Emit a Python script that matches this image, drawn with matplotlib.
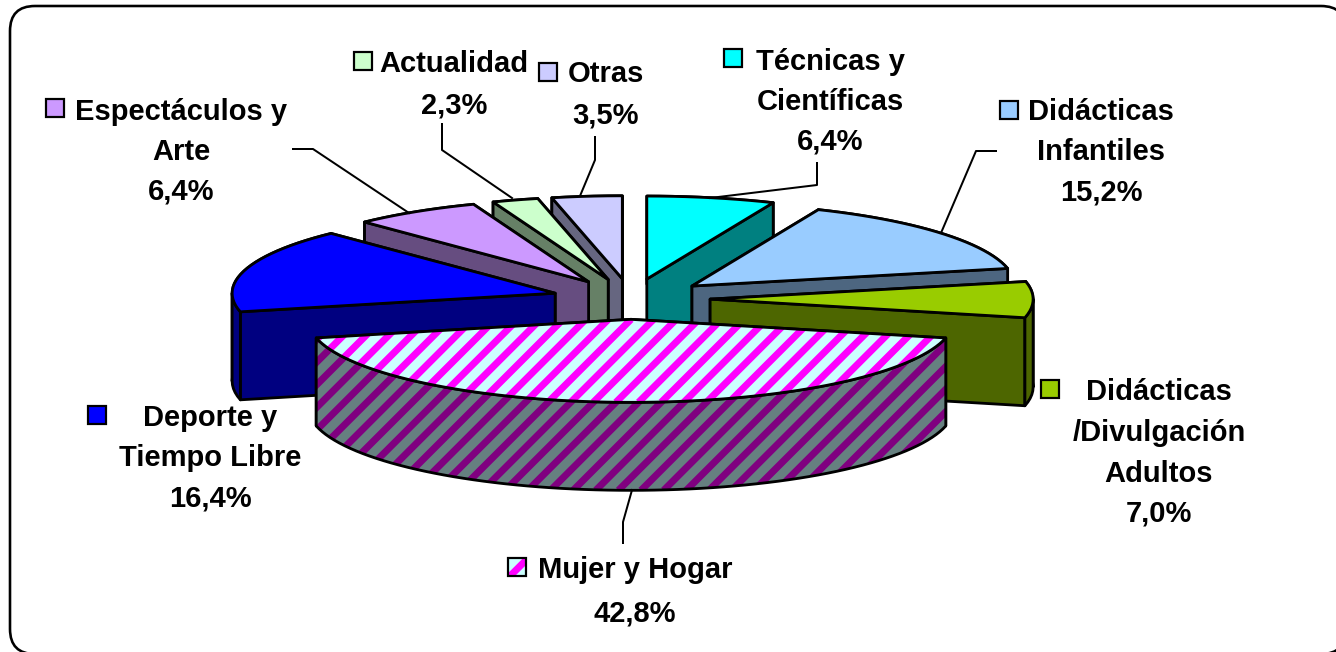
"""
    Exploded 3D pie: distribution of titles by subject
    Slices are projected on an ellipse and extruded downwards by hand
"""

import numpy as np
import matplotlib
matplotlib.use('Agg')
import matplotlib.pyplot as plt
from matplotlib.patches import FancyBboxPatch, Polygon, Rectangle

plt.rcParams['font.family'] = ['Liberation Sans', 'DejaVu Sans']

# clockwise from twelve o'clock
names = ['Técnicas y\nCientíficas', 'Didácticas\nInfantiles', 'Didácticas\n/Divulgación\nAdultos',
         'Mujer y Hogar', 'Deporte y\nTiempo Libre', 'Espectáculos y\nArte', 'Actualidad', 'Otras']
values = [6.4, 15.2, 7.0, 42.8, 16.4, 6.4, 2.3, 3.5]
top_colors = ['#00FFFF', '#99CCFF', '#99CC00', '#CCFFFF', '#0000FF', '#CC99FF', '#CCFFCC', '#CCCCFF']
side_colors = ['#008080', '#4D6680', '#4D6600', '#668080', '#000080', '#664D80', '#668066', '#666680']
draw_order = [0, 7, 6, 5, 1, 4, 2, 3]

# label layout: centre x, first line y, line step, key x, key y
label_pos = [(830, 60, 40, 733, 58), (1101, 111, 40, 1009, 110), (1159, 391, 40.5, 1050, 389),
             (635, 569, 43, 517, 567), (210, 417, 40, 97, 415), (181, 110, 40, 55, 108),
             (454, 62, 42, 363, 61), (606, 73, 41, 548, 72)]
leaders = [[(817, 163), (817, 185), (710, 198)], [(996, 151), (976, 151), (941, 233)], [],
           [(623, 543), (623, 522), (632, 490)], [], [(293, 149), (313, 149), (409, 213)],
           [(442, 124), (442, 150), (512, 198)], [(595, 137), (595, 160), (580, 196)]]

CX, CY = 631, 299
RX, RY = 323, 83
DEPTH = 88
EXPLODE = 0.245
STRIPE_PERIOD = 16
STRIPE_WIDTH = 7
PX = 72 / 100


def stripes(ax, patch, color):
    # diagonal pattern clipped to the patch
    x0, y0, x1, y1 = patch.get_window_extent().extents
    inv = ax.transData.inverted()
    (xa, ya), (xb, yb) = inv.transform([(x0, y0), (x1, y1)])
    xa, xb = min(xa, xb), max(xa, xb)
    ya, yb = min(ya, yb), max(ya, yb)
    step = STRIPE_PERIOD * np.sqrt(2)
    k = np.floor((xa + ya) / step) - 1
    while k * step < xb + yb + step:
        c = k * step
        line, = ax.plot([c - ya, c - yb], [ya, yb], color = color, lw = STRIPE_WIDTH * PX,
                        solid_capstyle = 'butt', zorder = patch.get_zorder())
        line.set_clip_path(patch)
        k += 1


def face(ax, pts, fill, hatch, z):
    patch = Polygon(pts, closed = True, facecolor = fill, edgecolor = 'none', zorder = z)
    ax.add_patch(patch)
    if hatch is not None:
        stripes(ax, patch, hatch)
    outline = Polygon(pts, closed = True, facecolor = 'none', edgecolor = 'black',
                      lw = 2.8 * PX, joinstyle = 'round', zorder = z + 0.5)
    ax.add_patch(outline)


def arc_points(ox, oy, start, end):
    t = np.linspace(start, end, max(int((end - start) * 28), 3))
    return np.column_stack((ox + RX * np.sin(t), oy - RY * np.cos(t)))


def draw_slice(ax, start, end, top, side, z):
    mid = (start + end) / 2
    ox = CX + EXPLODE * RX * np.sin(mid)
    oy = CY - EXPLODE * RY * np.cos(mid)
    arc = arc_points(ox, oy, start, end)
    apex = np.array([[ox, oy]])
    down = np.array([0, DEPTH])
    hatch_top = '#FF00FF' if top == '#CCFFFF' else None
    hatch_side = '#800080' if top == '#CCFFFF' else None

    # the outer wall is split where the ellipse turns, else its silhouette is lost
    cuts = [start] + [a for a in (np.pi / 2, 3 * np.pi / 2) if start < a < end] + [end]
    walls = [np.vstack((apex, arc[:1])), np.vstack((apex, arc[-1:]))]
    for a, b in zip(cuts[:-1], cuts[1:]):
        walls.append(arc_points(ox, oy, a, b))
    walls.sort(key = lambda w: w[:, 1].mean())
    for i, w in enumerate(walls):
        pts = np.vstack((w, (w + down)[::-1]))
        face(ax, pts, side, hatch_side, z + i * 0.6)
    face(ax, np.vstack((apex, arc)), top, hatch_top, z + 3)


def main():
    fig = plt.figure(figsize = (13.36, 6.52), dpi = 100)
    ax = fig.add_axes([0, 0, 1, 1])
    ax.set_xlim(0, 1336)
    ax.set_ylim(652, 0)
    ax.axis('off')

    # frame runs off the picture on the right and at the bottom
    frame = FancyBboxPatch((35, 31), 1286, 598, boxstyle = 'round,pad=25,rounding_size=25',
                           facecolor = 'white', edgecolor = 'black', lw = 2.6 * PX, clip_on = True)
    ax.add_patch(frame)

    edges = np.cumsum([0] + values) / sum(values) * 2 * np.pi
    for n, i in enumerate(draw_order):
        draw_slice(ax, edges[i], edges[i + 1], top_colors[i], side_colors[i], 2 + n * 5)

    for i in range(len(values)):
        if leaders[i]:
            xs, ys = zip(*leaders[i])
            ax.plot(xs, ys, color = 'black', lw = 2 * PX, zorder = 60)
        x, y, step, kx, ky = label_pos[i]
        lines = names[i].split('\n') + ['%.1f%%' % values[i]]
        lines[-1] = lines[-1].replace('.', ',')
        for j, s in enumerate(lines):
            ax.text(x, y + 1.5 + j * step, s, ha = 'center', va = 'center', fontsize = 21,
                    fontweight = 'bold', color = 'black', zorder = 60)
        key = Rectangle((kx - 9, ky - 9), 18, 18, facecolor = top_colors[i], edgecolor = 'none', zorder = 60)
        ax.add_patch(key)
        if top_colors[i] == '#CCFFFF':
            stripes(ax, key, '#FF00FF')
        ax.add_patch(Rectangle((kx - 9, ky - 9), 18, 18, facecolor = 'none', edgecolor = 'black',
                               lw = 2.2 * PX, zorder = 61))

    fig.savefig('out.png', dpi = 100)


if __name__ == '__main__':
    main()
